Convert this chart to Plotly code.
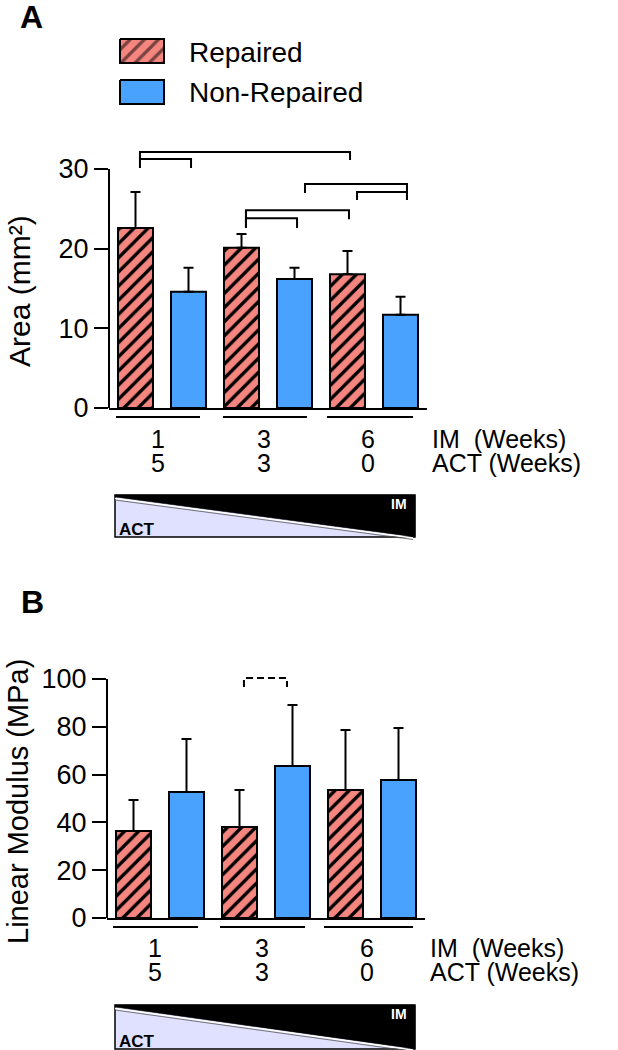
import plotly.graph_objects as go

W, H = 618, 1050

# ---------------- data ----------------
groups = ["1", "3", "6"]            # IM (Weeks)
act_weeks = ["5", "3", "0"]         # ACT (Weeks)
series = ["Repaired", "Non-Repaired"]

area_rep = [22.6, 20.1, 16.8]
area_rep_err = [4.5, 1.75, 2.9]
area_non = [14.6, 16.2, 11.7]
area_non_err = [3.0, 1.4, 2.25]

mod_rep = [36.4, 38.1, 53.6]
mod_rep_err = [13.0, 15.5, 25.1]
mod_non = [52.7, 63.6, 57.7]
mod_non_err = [22.2, 25.5, 21.8]

area_ticks = [0, 10, 20, 30]
mod_ticks = [0, 20, 40, 60, 80, 100]

# ---------------- style ----------------
PINK = "#F5857F"
BLUE = "#4AA2FF"
LAV = "#E0E0FF"
FONT = "Liberation Sans, Arial, Helvetica, sans-serif"


def px(x):
    return x / W


def py(y):
    return 1 - y / H


fig = go.Figure()


def add_bars(xa, ya, rep, rep_err, non, non_err):
    fig.add_trace(go.Bar(
        x=groups, y=rep, xaxis=xa, yaxis=ya, name=series[0], showlegend=False,
        marker=dict(color=PINK, line=dict(color="black", width=2),
                    pattern=dict(shape="/", fgcolor="black", bgcolor=PINK,
                                 size=10, solidity=0.33, fillmode="replace")),
        error_y=dict(type="data", symmetric=False, array=rep_err,
                     arrayminus=[0] * len(rep), color="black", thickness=2, width=5),
    ))
    fig.add_trace(go.Bar(
        x=groups, y=non, xaxis=xa, yaxis=ya, name=series[1], showlegend=False,
        marker=dict(color=BLUE, line=dict(color="black", width=2)),
        error_y=dict(type="data", symmetric=False, array=non_err,
                     arrayminus=[0] * len(non), color="black", thickness=2, width=5),
    ))


add_bars("x", "y", area_rep, area_rep_err, area_non, area_non_err)
add_bars("x2", "y2", mod_rep, mod_rep_err, mod_non, mod_non_err)

# legend swatches on a pixel overlay axis
fig.add_trace(go.Scatter(
    x=[120, 164, 164, 120, 120], y=[39, 39, 63, 63, 39], xaxis="x3", yaxis="y3",
    mode="lines", fill="toself", fillcolor=PINK, line=dict(color="black", width=2),
    fillpattern=dict(shape="/", fgcolor="black", bgcolor=PINK, size=10, solidity=0.33),
    showlegend=False, hoverinfo="skip"))
fig.add_trace(go.Scatter(
    x=[120, 164, 164, 120, 120], y=[80, 80, 104, 104, 80], xaxis="x3", yaxis="y3",
    mode="lines", fill="toself", fillcolor=BLUE, line=dict(color="black", width=2),
    showlegend=False, hoverinfo="skip"))

axis_common = dict(showgrid=False, zeroline=False, fixedrange=True, automargin=False)
ytick_common = dict(ticks="outside", ticklen=14, tickwidth=2, tickcolor="black",
                    showline=False, tickfont=dict(size=27, color="black", family=FONT))
xcat_common = dict(type="category", range=[-0.5, 2.5], showline=True, linecolor="black",
                   linewidth=2, showticklabels=False, ticks="")

fig.update_layout(
    width=W, height=H, autosize=False,
    margin=dict(l=0, r=0, t=0, b=0, pad=0, autoexpand=False),
    paper_bgcolor="white", plot_bgcolor="rgba(0,0,0,0)",
    font=dict(family=FONT, color="black"),
    barmode="group", bargap=0.0, bargroupgap=0.34,
    showlegend=False,
    xaxis=dict(domain=[px(109), px(427)], anchor="y", **xcat_common, **axis_common),
    yaxis=dict(domain=[py(408), py(140)], anchor="x", range=[0, 33.64],
               tickvals=area_ticks, **ytick_common, **axis_common),
    xaxis2=dict(domain=[px(107), px(425)], anchor="y2", **xcat_common, **axis_common),
    yaxis2=dict(domain=[py(918), py(665)], anchor="x2", range=[0, 105.86],
                tickvals=mod_ticks, **ytick_common, **axis_common),
    xaxis3=dict(domain=[0, 1], anchor="y3", range=[0, W], visible=False, **axis_common),
    yaxis3=dict(domain=[0, 1], anchor="x3", range=[H, 0], visible=False, **axis_common),
)

shapes = []
# y-axis lines (0 .. top tick only)
shapes.append(dict(type="line", xref="x domain", yref="y", x0=0, x1=0, y0=0, y1=30,
                   line=dict(color="black", width=2)))
shapes.append(dict(type="line", xref="x2 domain", yref="y2", x0=0, x1=0, y0=0, y1=100,
                   line=dict(color="black", width=2)))

# significance brackets panel A: (x0, x1, ytop, yleg_left, yleg_right)
brackets_a = [
    (-0.208, 1.774, 32.13, 31.12, 31.12),
    (-0.208, 0.274, 31.25, 30.12, 30.12),
    (1.349, 2.311, 28.12, 26.99, 26.11),
    (1.840, 2.311, 27.11, 26.11, 26.11),
    (0.792, 1.764, 24.83, 22.59, 23.70),
    (0.792, 1.274, 23.83, 22.59, 22.59),
]
for x0, x1, yt, yl, yr in brackets_a:
    shapes.append(dict(type="path", xref="x", yref="y",
                       path=f"M {x0},{yl} L {x0},{yt} L {x1},{yt} L {x1},{yr}",
                       line=dict(color="black", width=2)))
# dashed bracket panel B
shapes.append(dict(type="path", xref="x2", yref="y2",
                   path="M 0.792,96.65 L 0.792,100.4 L 1.198,100.4 L 1.198,96.65",
                   line=dict(color="black", width=2, dash="7px,4px")))

# group underlines
for ly, segs in [(417, [(116, 200), (223, 307), (327, 413)]),
                 (927, [(113, 198), (220, 305), (324, 413)])]:
    for a, b in segs:
        shapes.append(dict(type="line", xref="paper", yref="paper",
                           x0=px(a), x1=px(b), y0=py(ly), y1=py(ly),
                           line=dict(color="black", width=2)))

# ACT / IM gradient boxes
for top, bot in [(495, 537), (1005, 1049)]:
    shapes.append(dict(type="rect", xref="paper", yref="paper",
                       x0=px(115), x1=px(415), y0=py(bot), y1=py(top),
                       fillcolor=LAV, line=dict(color="black", width=1.5)))
    shapes.append(dict(type="path", xref="paper", yref="paper",
                       path=(f"M {px(115)},{py(top)} L {px(415)},{py(top)} "
                             f"L {px(415)},{py(bot)} L {px(115)},{py(top + 2)} Z"),
                       fillcolor="black", line=dict(color="black", width=0.5)))
    shapes.append(dict(type="line", xref="paper", yref="paper",
                       x0=px(115), x1=px(413), y0=py(top + 3.5), y1=py(bot + 1),
                       line=dict(color="white", width=1.5)))
    shapes.append(dict(type="line", xref="paper", yref="paper",
                       x0=px(115), x1=px(413), y0=py(top + 5), y1=py(bot + 2.5),
                       line=dict(color="#555555", width=0.8)))

fig.update_layout(shapes=shapes)

ann = []


def text(x, y, s, size, xanchor="center", bold=False, color="black", angle=0):
    ann.append(dict(xref="paper", yref="paper", x=px(x), y=py(y), text=s,
                    showarrow=False, xanchor=xanchor, yanchor="middle",
                    textangle=angle,
                    font=dict(size=size, color=color, family=FONT,
                              weight="bold" if bold else "normal")))


text(31, 17, "A", 32, bold=True)
text(32, 602, "B", 32, bold=True)
text(187, 52, series[0], 28, xanchor="left")
text(187, 93, series[1], 28, xanchor="left")
text(19, 291, "Area (mm²)", 30, angle=-90)
text(18, 802, "Linear Modulus (MPa)", 29, angle=-90)

for (yim, yact, xs, xl) in [(439, 463, [158, 264, 368], 430), (948, 972, [155, 262, 367], 428)]:
    for g, a, xx in zip(groups, act_weeks, xs):
        text(xx, yim, g, 25)
        text(xx, yact, a, 25)
    text(xl, yim, "IM\u00a0 (Weeks)", 25, xanchor="left")
    text(xl, yact, "ACT (Weeks)", 25, xanchor="left")

for top, bot in [(495, 537), (1005, 1049)]:
    text(399, top + 9, "IM", 14, bold=True, color="white")
    text(137, bot - 8, "ACT", 17, bold=True)

fig.update_layout(annotations=ann)

fig.write_html("out.html", config={"displayModeBar": False},
               post_script="document.body.style.margin='0';document.body.style.padding='0';")
